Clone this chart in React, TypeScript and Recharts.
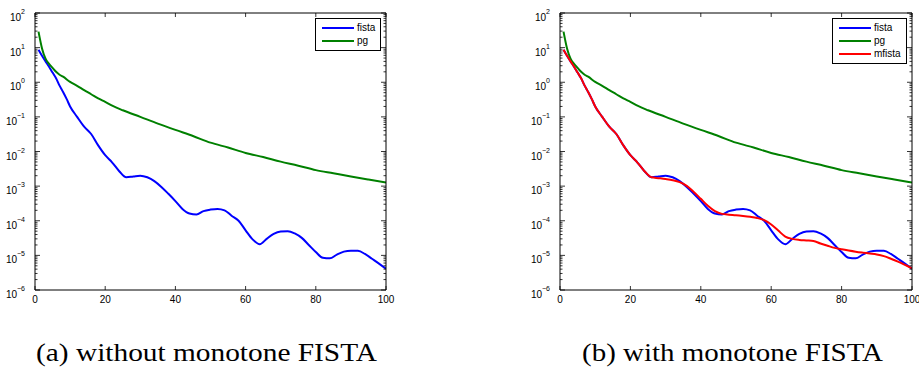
import React from 'react';
import { LineChart, Line, XAxis, YAxis } from 'recharts';

// iterations and objective error
const fistaIter = [1, 2, 3, 4, 5, 6, 7, 8, 9, 10, 12, 14, 16, 18, 20, 22, 24, 26, 28, 30, 32, 34, 36, 38, 40, 42, 44, 46, 48, 50, 52, 54, 56, 58, 60, 62, 64, 66, 68, 70, 72, 74, 76, 78, 80, 82, 84, 86, 88, 90, 92, 94, 96, 98, 100];
const fistaVal = [8.7, 5.8, 4.0, 2.8, 1.9, 1.3, 0.8, 0.52, 0.33, 0.2, 0.1, 0.052, 0.032, 0.015, 0.0078, 0.0048, 0.0027, 0.0018, 0.0019, 0.002, 0.0018, 0.0014, 0.00095, 0.0006, 0.00037, 0.00022, 0.000162, 0.000152, 0.00019, 0.00021, 0.00022, 0.0002, 0.00014, 0.0001, 5.3e-5, 2.9e-5, 2.1e-5, 3.0e-5, 4.2e-5, 4.9e-5, 5.0e-5, 4.3e-5, 3.2e-5, 2.0e-5, 1.25e-5, 8.5e-6, 8.2e-6, 1.05e-5, 1.28e-5, 1.37e-5, 1.35e-5, 1.1e-5, 8.0e-6, 5.8e-6, 4.1e-6];

const pgIter = [1, 2, 3, 4, 5, 6, 7, 8, 10, 12, 14, 16, 18, 20, 22, 25, 30, 35, 40, 45, 50, 55, 60, 65, 70, 75, 80, 85, 90, 95, 100];
const pgVal = [29, 9.5, 4.8, 3.4, 2.6, 2.0, 1.65, 1.45, 1.02, 0.79, 0.59, 0.45, 0.34, 0.27, 0.21, 0.155, 0.1, 0.064, 0.042, 0.028, 0.018, 0.013, 0.0091, 0.0069, 0.0051, 0.0039, 0.0029, 0.00235, 0.0019, 0.00155, 0.00127];

const mfistaIter = [1, 2, 3, 4, 5, 6, 7, 8, 9, 10, 12, 14, 16, 18, 20, 22, 24, 26, 28, 30, 32, 34, 36, 38, 40, 42, 44, 46, 48, 50, 52, 54, 56, 58, 60, 62, 64, 66, 68, 70, 72, 74, 76, 78, 80, 82, 84, 86, 88, 90, 92, 94, 96, 98, 100];
const mfistaVal = [8.7, 5.8, 4.0, 2.8, 1.9, 1.3, 0.8, 0.52, 0.33, 0.2, 0.1, 0.052, 0.032, 0.015, 0.0078, 0.0048, 0.0027, 0.0018, 0.0017, 0.0016, 0.00148, 0.0013, 0.00102, 0.00068, 0.00043, 0.00027, 0.00019, 0.000158, 0.00015, 0.000145, 0.000138, 0.00013, 0.00012, 0.000104, 7.8e-5, 5.2e-5, 3.5e-5, 3.0e-5, 2.8e-5, 2.7e-5, 2.6e-5, 2.2e-5, 1.9e-5, 1.65e-5, 1.5e-5, 1.38e-5, 1.28e-5, 1.2e-5, 1.13e-5, 1.06e-5, 9.5e-6, 8.0e-6, 6.6e-6, 5.3e-6, 4.2e-6];

const xTicks = [0, 20, 40, 60, 80, 100];
const yExponents = [-6, -5, -4, -3, -2, -1, 0, 1, 2];
const captions = ['(a) without monotone FISTA', '(b) with monotone FISTA'];

const majorTicks = yExponents.map((e) => Math.pow(10, e));
const minorTicks = yExponents.slice(0, -1).flatMap((e) =>
  [2, 3, 4, 5, 6, 7, 8, 9].map((k) => k * Math.pow(10, e))
);
const yTicks = [...majorTicks, ...minorTicks].sort((a, b) => a - b);

const toPoints = (xs: number[], ys: number[]) => xs.map((x, i) => ({ x, y: ys[i] }));

const fistaSeries = { name: 'fista', color: '#0000ff', data: toPoints(fistaIter, fistaVal) };
const pgSeries = { name: 'pg', color: '#008000', data: toPoints(pgIter, pgVal) };
const mfistaSeries = { name: 'mfista', color: '#ff0000', data: toPoints(mfistaIter, mfistaVal) };

const FONT = '"Liberation Sans", Arial, sans-serif';

const isMajor = (v: number) => Math.abs(Math.log10(v) - Math.round(Math.log10(v))) < 1e-6;

const BottomTick = ({ x, y, payload }: any) => (
  <g>
    <line x1={x} x2={x} y1={y} y2={y - 4} stroke="#000" strokeWidth={0.8} />
    <text x={x} y={y + 13} textAnchor="middle" fontSize={10} fontFamily={FONT} fill="#000">
      {payload.value}
    </text>
  </g>
);

const TopTick = ({ x, y }: any) => (
  <line x1={x} x2={x} y1={y} y2={y + 4} stroke="#000" strokeWidth={0.8} />
);

const LeftTick = ({ x, y, payload }: any) => {
  const v = payload.value;
  const major = isMajor(v);
  const e = Math.round(Math.log10(v));
  return (
    <g>
      <line x1={x} x2={x + (major ? 5 : 2.5)} y1={y} y2={y} stroke="#000" strokeWidth={0.8} />
      {major && (
        <text x={x - 10} y={y + 8} textAnchor="end" fontSize={10} fontFamily={FONT} fill="#000">
          <tspan>10</tspan>
          <tspan dy={-7} fontSize={7}>{e < 0 ? '\u2212' + Math.abs(e) : e}</tspan>
        </text>
      )}
    </g>
  );
};

const RightTick = ({ x, y, payload }: any) => {
  const major = isMajor(payload.value);
  return <line x1={x} x2={x - (major ? 5 : 2.5)} y1={y} y2={y} stroke="#000" strokeWidth={0.8} />;
};

type Series = { name: string; color: string; data: { x: number; y: number }[] };

function ConvergencePlot({ left, width, marginLeft, marginRight, series }: {
  left: number; width: number; marginLeft: number; marginRight: number; series: Series[];
}) {
  // axes take 1px each, so the plot box is margin + 1
  const plotRight = width - marginRight - 1;
  const boxWidth = series.length > 2 ? 75 : 66;
  return (
    <div style={{ position: 'absolute', left, top: 0 }}>
      <LineChart width={width} height={310} margin={{ top: 12, right: marginRight, bottom: 19, left: marginLeft }}>
        <XAxis xAxisId="b" dataKey="x" type="number" domain={[0, 100]} ticks={xTicks} interval={0}
          height={1} tickSize={0} tickMargin={0} tickLine={false} allowDataOverflow
          axisLine={{ stroke: '#000' }} tick={(p: any) => <BottomTick {...p} />} />
        <XAxis xAxisId="t" orientation="top" dataKey="x" type="number" domain={[0, 100]} ticks={xTicks} interval={0}
          height={1} tickSize={0} tickMargin={0} tickLine={false} allowDataOverflow
          axisLine={{ stroke: '#000' }} tick={(p: any) => <TopTick {...p} />} />
        <YAxis yAxisId="l" type="number" scale="log" domain={[1e-6, 100]} ticks={yTicks} interval={0}
          width={1} tickSize={0} tickMargin={0} tickLine={false} allowDataOverflow
          axisLine={{ stroke: '#000' }} tick={(p: any) => <LeftTick {...p} />} />
        <YAxis yAxisId="r" orientation="right" type="number" scale="log" domain={[1e-6, 100]} ticks={yTicks} interval={0}
          width={1} tickSize={0} tickMargin={0} tickLine={false} allowDataOverflow
          axisLine={{ stroke: '#000' }} tick={(p: any) => <RightTick {...p} />} />
        {series.map((s) => (
          <Line key={s.name} xAxisId="b" yAxisId="l" data={s.data} dataKey="y" name={s.name}
            type="monotone" stroke={s.color} strokeWidth={2} dot={false} isAnimationActive={false} />
        ))}
      </LineChart>
      <div style={{
        position: 'absolute', left: plotRight - 5 - boxWidth, top: 18, width: boxWidth - 2,
        height: series.length * 13 + 3, border: '1px solid #000', background: '#fff',
        fontFamily: FONT, fontSize: 10, lineHeight: '13px', paddingTop: 2, boxSizing: 'content-box',
      }}>
        {series.map((s) => (
          <div key={s.name} style={{ display: 'flex', alignItems: 'center', height: 13 }}>
            <span style={{ display: 'inline-block', width: 32, height: 2, background: s.color, marginLeft: 6, marginRight: 3 }} />
            <span>{s.name}</span>
          </div>
        ))}
      </div>
    </div>
  );
}

export default function App() {
  return (
    <div style={{ position: 'absolute', left: 0, top: 0, width: 919, height: 370, background: '#fff', overflow: 'hidden' }}>
      <ConvergencePlot left={0} width={400} marginLeft={34} marginRight={13} series={[fistaSeries, pgSeries]} />
      <ConvergencePlot left={460} width={459} marginLeft={99} marginRight={6} series={[fistaSeries, pgSeries, mfistaSeries]} />
      <svg width={919} height={370} style={{ position: 'absolute', left: 0, top: 0, pointerEvents: 'none' }}>
        <text x={36} y={361} fontSize={25} fontFamily='"Liberation Serif", serif' textLength={341} lengthAdjust="spacingAndGlyphs">{captions[0]}</text>
        <text x={582} y={361} fontSize={25} fontFamily='"Liberation Serif", serif' textLength={301} lengthAdjust="spacingAndGlyphs">{captions[1]}</text>
      </svg>
    </div>
  );
}
